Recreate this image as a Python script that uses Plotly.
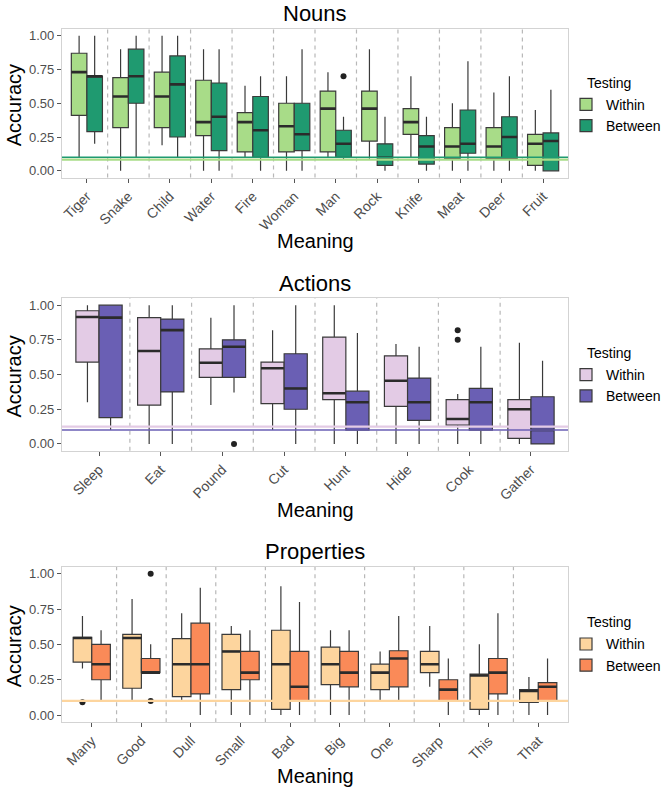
import plotly.graph_objects as go

# ---------------- DATA ----------------
nouns = ["Tiger", "Snake", "Child", "Water", "Fire", "Woman", "Man", "Rock", "Knife", "Meat", "Deer", "Fruit"]
nouns_within_low = [0.10, 0.00, 0.19, 0.00, 0.10, 0.00, 0.10, 0.09, 0.10, 0.00, 0.00, 0.00]
nouns_within_q1 = [0.41, 0.32, 0.32, 0.26, 0.14, 0.14, 0.14, 0.22, 0.27, 0.09, 0.09, 0.04]
nouns_within_med = [0.73, 0.55, 0.55, 0.36, 0.36, 0.33, 0.46, 0.46, 0.36, 0.18, 0.18, 0.20]
nouns_within_q3 = [0.87, 0.69, 0.73, 0.67, 0.43, 0.50, 0.59, 0.59, 0.46, 0.32, 0.32, 0.27]
nouns_within_high = [1.00, 0.90, 1.00, 0.90, 0.63, 0.70, 0.73, 0.90, 0.70, 0.50, 0.58, 0.45]
nouns_between_low = [0.20, 0.10, 0.10, 0.00, 0.00, 0.00, 0.08, 0.00, 0.00, 0.00, 0.00, 0.00]
nouns_between_q1 = [0.29, 0.50, 0.25, 0.15, 0.10, 0.15, 0.10, 0.04, 0.05, 0.13, 0.09, 0.00]
nouns_between_med = [0.70, 0.70, 0.64, 0.40, 0.30, 0.27, 0.20, 0.10, 0.18, 0.20, 0.25, 0.22]
nouns_between_q3 = [0.70, 0.90, 0.85, 0.65, 0.55, 0.50, 0.30, 0.20, 0.26, 0.45, 0.40, 0.28]
nouns_between_high = [1.00, 1.00, 1.00, 0.90, 0.70, 0.90, 0.40, 0.40, 0.40, 0.81, 0.70, 0.60]
nouns_outliers = [("Man", "Between", 0.70)]
nouns_chance = {"Within": 1 / 12, "Between": 0.10}

actions = ["Sleep", "Eat", "Pound", "Cut", "Hunt", "Hide", "Cook", "Gather"]
actions_within_low = [0.30, 0.00, 0.28, 0.10, 0.00, 0.00, 0.00, 0.00]
actions_within_q1 = [0.59, 0.28, 0.48, 0.29, 0.32, 0.27, 0.135, 0.04]
actions_within_med = [0.915, 0.67, 0.585, 0.545, 0.365, 0.455, 0.18, 0.25]
actions_within_q3 = [0.96, 0.91, 0.685, 0.59, 0.77, 0.635, 0.32, 0.32]
actions_within_high = [1.00, 1.00, 0.91, 0.82, 1.00, 0.72, 0.36, 0.73]
actions_between_low = [0.10, 0.00, 0.37, 0.00, 0.00, 0.00, 0.00, 0.00]
actions_between_q1 = [0.19, 0.375, 0.48, 0.25, 0.10, 0.17, 0.10, 0.00]
actions_between_med = [0.91, 0.82, 0.70, 0.40, 0.30, 0.30, 0.30, 0.10]
actions_between_q3 = [1.00, 0.90, 0.75, 0.65, 0.38, 0.475, 0.40, 0.34]
actions_between_high = [1.00, 1.00, 1.00, 1.00, 0.80, 0.70, 0.70, 0.60]
actions_outliers = [("Pound", "Between", 0.00), ("Cook", "Within", 0.82), ("Cook", "Within", 0.75)]
actions_chance = {"Within": 0.125, "Between": 0.10}

props = ["Many", "Good", "Dull", "Small", "Bad", "Big", "One", "Sharp", "This", "That"]
props_within_low = [0.33, 0.10, 0.10, 0.00, 0.00, 0.00, 0.10, 0.20, 0.00, 0.00]
props_within_q1 = [0.375, 0.19, 0.13, 0.18, 0.04, 0.215, 0.18, 0.30, 0.04, 0.09]
props_within_med = [0.545, 0.545, 0.36, 0.45, 0.36, 0.36, 0.30, 0.36, 0.28, 0.17]
props_within_q3 = [0.55, 0.57, 0.54, 0.57, 0.60, 0.48, 0.36, 0.45, 0.29, 0.18]
props_within_high = [0.70, 0.82, 0.72, 0.63, 0.91, 0.60, 0.45, 0.63, 0.50, 0.27]
props_between_low = [0.10, 0.30, 0.00, 0.00, 0.00, 0.00, 0.10, 0.00, 0.00, 0.00]
props_between_q1 = [0.25, 0.30, 0.15, 0.25, 0.10, 0.20, 0.20, 0.10, 0.15, 0.10]
props_between_med = [0.36, 0.30, 0.36, 0.30, 0.20, 0.30, 0.40, 0.18, 0.30, 0.20]
props_between_q3 = [0.50, 0.40, 0.65, 0.45, 0.45, 0.45, 0.455, 0.25, 0.40, 0.23]
props_between_high = [0.60, 0.50, 0.90, 0.60, 0.80, 0.60, 0.70, 0.40, 0.72, 0.40]
props_outliers = [("Many", "Within", 0.09), ("Good", "Between", 1.00), ("Good", "Between", 0.10)]
props_chance = {"Within": 0.10, "Between": 0.10}

y_ticks = [0.0, 0.25, 0.5, 0.75, 1.0]
y_ticktext = ["0.00", "0.25", "0.50", "0.75", "1.00"]

# ---------------- STYLE ----------------
FONT = "Liberation Sans, Arial, Helvetica, sans-serif"
W, H = 666, 795
PL, PR = 62, 568
OUTLINE = "#3a3a3a"

panels = [
    dict(title="Nouns", cats=nouns,
         w=(nouns_within_low, nouns_within_q1, nouns_within_med, nouns_within_q3, nouns_within_high),
         b=(nouns_between_low, nouns_between_q1, nouns_between_med, nouns_between_q3, nouns_between_high),
         out=nouns_outliers, chance=nouns_chance,
         cw="#a8dc88", cb="#1f9a70", top=28, bot=177, legtop=72, xlab=241),
    dict(title="Actions", cats=actions,
         w=(actions_within_low, actions_within_q1, actions_within_med, actions_within_q3, actions_within_high),
         b=(actions_between_low, actions_between_q1, actions_between_med, actions_between_q3, actions_between_high),
         out=actions_outliers, chance=actions_chance,
         cw="#e3cbe5", cb="#6a5fb4", top=298, bot=451, legtop=343, xlab=510),
    dict(title="Properties", cats=props,
         w=(props_within_low, props_within_q1, props_within_med, props_within_q3, props_within_high),
         b=(props_between_low, props_between_q1, props_between_med, props_between_q3, props_between_high),
         out=props_outliers, chance=props_chance,
         cw="#fdd59e", cb="#fa8a58", top=567, bot=723, legtop=613, xlab=777),
]

fig = go.Figure()
shapes = []
annotations = []
BOXW = 0.375
OFF = {"Within": -0.1875, "Between": 0.1875}


def px_x(px):
    return (px - PL) / (PR - PL)


def px_y(py):
    return 1 - py / H


for k, p in enumerate(panels):
    idx = "" if k == 0 else str(k + 1)
    xa, ya = "x" + idx, "y" + idx
    leg = "legend" + idx
    n = len(p["cats"])
    pos = list(range(1, n + 1))
    for grp, stats, col in (("Within", p["w"], p["cw"]), ("Between", p["b"], p["cb"])):
        lo, q1, med, q3, hi = stats
        xs = [i + OFF[grp] for i in pos]
        fig.add_trace(go.Box(
            x=xs, q1=q1, median=med, q3=q3, lowerfence=lo, upperfence=hi,
            name=grp, legend=leg, showlegend=True, width=BOXW, whiskerwidth=0,
            fillcolor=col, line=dict(color=OUTLINE, width=1.2),
            boxpoints=False, xaxis=xa, yaxis=ya, hoverinfo="skip"))
        # thicker median bar
        fig.add_trace(go.Box(
            x=xs, q1=med, median=med, q3=med, lowerfence=med, upperfence=med,
            name=grp, showlegend=False, width=BOXW, whiskerwidth=0,
            fillcolor="rgba(0,0,0,0)", line=dict(color="#2b2b2b", width=2.6),
            boxpoints=False, xaxis=xa, yaxis=ya, hoverinfo="skip"))
    ox = [p["cats"].index(c) + 1 + OFF[g] for c, g, v in p["out"]]
    oy = [v for c, g, v in p["out"]]
    fig.add_trace(go.Scatter(x=ox, y=oy, mode="markers", showlegend=False,
                             marker=dict(color="#222222", size=6),
                             xaxis=xa, yaxis=ya, hoverinfo="skip"))

    fig.layout["xaxis" + idx] = dict(
        domain=[0, 1], anchor=ya, range=[0.4, n + 0.6],
        tickvals=pos, ticktext=p["cats"], tickangle=-45,
        tickfont=dict(family=FONT, size=14, color="#4d4d4d"),
        ticks="outside", ticklen=4, tickcolor="#555555",
        showline=True, mirror=True, linecolor="#d3d3d3", linewidth=1.2,
        showgrid=False, zeroline=False)
    fig.layout["yaxis" + idx] = dict(
        domain=[px_y(p["bot"]), px_y(p["top"])], anchor=xa, range=[-0.05, 1.05],
        tickvals=y_ticks, ticktext=y_ticktext,
        tickfont=dict(family=FONT, size=13, color="#4d4d4d"),
        ticks="outside", ticklen=4, tickcolor="#555555",
        showline=True, mirror=True, linecolor="#d3d3d3", linewidth=1.2,
        showgrid=False, zeroline=False)

    # dashed separators
    for i in range(1, n):
        shapes.append(dict(type="line", xref=xa, yref=ya + " domain", x0=i + 0.5, x1=i + 0.5,
                           y0=0, y1=1, line=dict(color="#b8b8b8", width=1.2, dash="4px,4px"), layer="below"))
    # chance lines
    shapes.append(dict(type="line", xref=xa + " domain", yref=ya, x0=0, x1=1,
                       y0=p["chance"]["Between"], y1=p["chance"]["Between"],
                       line=dict(color=p["cb"], width=1.6), layer="above"))
    shapes.append(dict(type="line", xref=xa + " domain", yref=ya, x0=0, x1=1,
                       y0=p["chance"]["Within"], y1=p["chance"]["Within"],
                       line=dict(color=p["cw"], width=2.2), layer="above"))

    # titles
    annotations.append(dict(text=p["title"], xref="paper", yref="paper",
                            x=0.5, y=px_y(p["top"] - 15), xanchor="center", yanchor="middle",
                            showarrow=False, font=dict(family=FONT, size=22, color="black")))
    annotations.append(dict(text="Accuracy", xref="paper", yref="paper", textangle=-90,
                            x=px_x(14), y=px_y((p["top"] + p["bot"]) / 2 + 2),
                            xanchor="center", yanchor="middle",
                            showarrow=False, font=dict(family=FONT, size=20, color="black")))
    annotations.append(dict(text="Meaning", xref="paper", yref="paper",
                            x=0.5, y=px_y(p["xlab"]), xanchor="center", yanchor="middle",
                            showarrow=False, font=dict(family=FONT, size=20, color="black")))
    # legend title
    annotations.append(dict(text="Testing", xref="paper", yref="paper",
                            x=px_x(585), y=px_y(p["legtop"] + 10), xanchor="left", yanchor="middle",
                            showarrow=False, font=dict(family=FONT, size=14, color="black")))

    fig.layout[leg] = dict(
        x=px_x(566), y=px_y(p["legtop"] + 16), xanchor="left", yanchor="top",
        xref="paper", yref="paper",
        font=dict(family=FONT, size=14, color="black"),
        bgcolor="rgba(0,0,0,0)", tracegroupgap=0, itemwidth=30)

fig.update_layout(
    width=W, height=H, paper_bgcolor="white", plot_bgcolor="white",
    margin=dict(l=PL, r=W - PR, t=0, b=0),
    boxmode="overlay", shapes=shapes, annotations=annotations,
    font=dict(family=FONT))

fig.write_html("out.html", config={"displayModeBar": False},
               post_script="document.body.style.margin='0px';document.body.style.overflow='hidden';")
